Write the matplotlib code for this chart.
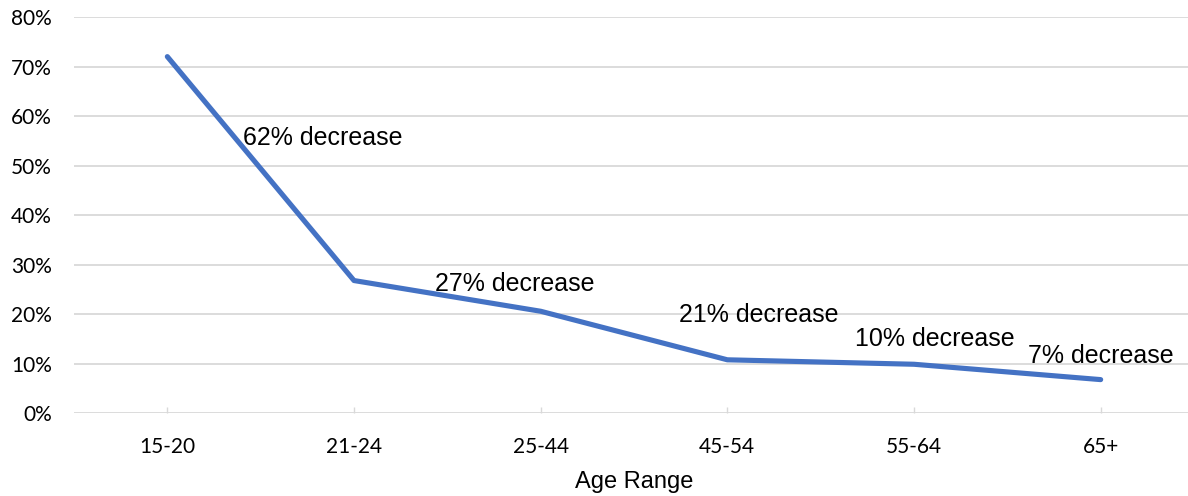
import matplotlib.pyplot as plt
from matplotlib.ticker import PercentFormatter

# age groups and share (%)
ages = ['15-20', '21-24', '25-44', '45-54', '55-64', '65+']
share = [72.0, 26.8, 20.6, 10.8, 9.9, 6.8]

# annotation labels and where they sit (category units, %)
notes = ['62% decrease', '27% decrease', '21% decrease', '10% decrease', '7% decrease']
note_x = [0.405, 1.434, 2.741, 3.684, 4.611]
note_y = [54.25, 24.7, 18.4, 13.6, 10.1]

fig = plt.figure(figsize=(11.88, 4.96), dpi=100)
ax = fig.add_axes([74/1188, 82.7/496, 1120/1188, 396.3/496])

xs = list(range(len(ages)))
ax.plot(xs, share, color='#4472C4', linewidth=3.7, solid_capstyle='round',
        solid_joinstyle='round', zorder=3)

for t, x, y in zip(notes, note_x, note_y):
    ax.text(x, y, t, fontsize=18, family='Liberation Sans', ha='left', va='baseline',
            color='black', zorder=4)

ax.set_xlim(-0.5, 5.5)
ax.set_ylim(0, 80)
ax.set_yticks(range(0, 81, 10))
ax.yaxis.set_major_formatter(PercentFormatter(decimals=0))
ax.set_xticks(xs)
ax.set_xticklabels(ages)

ax.grid(axis='y', color='#D9D9D9', linewidth=1.3, zorder=0)
ax.set_axisbelow(True)
for s in ax.spines.values():
    s.set_visible(False)

ax.tick_params(axis='y', length=0, pad=16, labelsize=15)
ax.tick_params(axis='x', direction='in', length=4, width=1, color='#D9D9D9',
               pad=17, labelsize=15)
for lab in ax.get_xticklabels() + ax.get_yticklabels():
    lab.set_family('Lato')

ax.set_xlabel('Age Range', fontsize=17, family='Liberation Sans', labelpad=10)

fig.savefig('out.png', dpi=100)
